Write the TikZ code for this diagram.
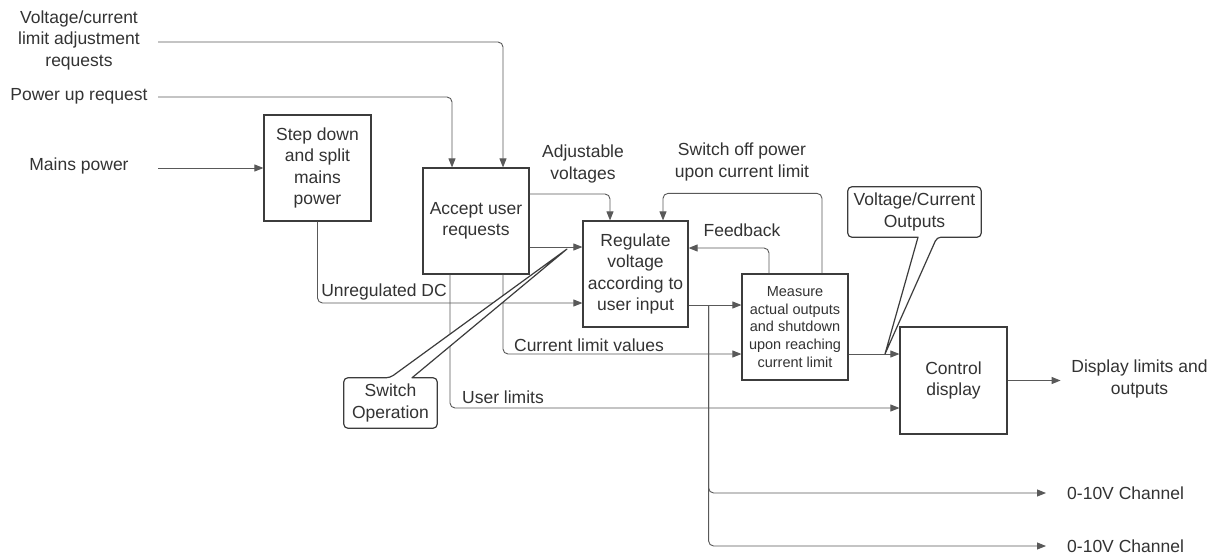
\documentclass[tikz,border=0pt]{standalone}
\usepackage{fontspec}
\setmainfont{Liberation Sans}
\usetikzlibrary{arrows.meta}
\definecolor{ink}{HTML}{333333}
\definecolor{edge}{HTML}{3C3C3C}
\definecolor{wire}{HTML}{595959}
\begin{document}
\begin{tikzpicture}[x=1pt,y=-1pt,
  txt/.style={text=ink, font={\fontsize{17.5pt}{21.5pt}\selectfont}},
  box/.style={txt, draw=edge, line width=1.2pt, minimum width=106pt,
    minimum height=106pt, inner sep=2pt, align=center},
  smalltxt/.style={font={\fontsize{14.5pt}{17.7pt}\selectfont}},
  lbl/.style={txt, align=center, inner sep=0pt},
  flow/.style={draw=wire, line width=0.9pt, rounded corners=5pt,
    -{Triangle[length=9pt,width=7pt]}},
  callout/.style={draw=edge, line width=1.2pt, fill=white, line join=round},
  frame/.style={minimum width=#1, minimum height=50pt, inner sep=0pt}
]
\fill[white] (0,0) rectangle (1221,554);
\useasboundingbox (0,0) rectangle (1221,554);

% process blocks
\node[box, minimum width=107pt] (step) at (317.5,168) {Step down\\and split\\mains\\power};
\node[box] (accept) at (476,221) {Accept user\\requests};
\node[box, minimum width=105pt] (reg) at (635.5,274) {Regulate\\voltage\\according to\\user input};
\node[box, smalltxt] (meas) at (795,327) {Measure\\actual outputs\\and shutdown\\upon reaching\\current limit};
\node[box, minimum width=107pt, minimum height=107pt] (ctrl) at (953.5,380.5) {Control\\display};

% free labels
\node[lbl] (vclLbl)   at (79,40)    {Voltage/current\\limit adjustment\\requests};
\node[lbl] (puLbl)    at (79,96)    {Power up request};
\node[lbl] (mainsLbl) at (79,166)   {Mains power};
\node[lbl] (udcLbl)   at (384,292)  {Unregulated DC};
\node[lbl] (avLbl)    at (583,164)  {Adjustable\\voltages};
\node[lbl] (clvLbl)   at (589,345)  {Current limit values};
\node[lbl] (ulLbl)    at (503,397)  {User limits};
\node[lbl] (fbLbl)    at (742,230)  {Feedback};
\node[lbl] (soLbl)    at (742,162)  {Switch off power\\upon current limit};
\node[lbl] (dlLbl)    at (1139.5,379) {Display limits and\\outputs};
\node[lbl, anchor=west] (ch1Lbl) at (1067,493) {0-10V Channel};
\node[lbl, anchor=west] (ch2Lbl) at (1067,546) {0-10V Channel};

% loose ends of the connectors
\coordinate (vclIn)   at (158,42);
\coordinate (puIn)    at (158,97);
\coordinate (mainsIn) at (158,168);
\coordinate (ch1)     at (1046,493);
\coordinate (ch2)     at (1046,546);
\coordinate (dlOut)   at ([xshift=53pt]ctrl.east);
\coordinate (swTip)   at (567,249);
\coordinate (vcTip)   at (885,354);

% inputs
\draw[flow] (vclIn) -| ([xshift=27pt]accept.north);
\draw[flow] (puIn) -| ([xshift=-24pt]accept.north);
\draw[flow] (mainsIn) -- (step.west);
\draw[flow] (step.south) |- ([yshift=-29pt]reg.west);

% user request outputs
\draw[flow] ([yshift=27pt]accept.east) -| ([xshift=-25.5pt]reg.north);
\coordinate (accOut) at ([yshift=-26pt]accept.east);
\draw[flow] (accOut) -- (accOut -| reg.west);
\draw[flow] ([xshift=-26pt]accept.south) |- ([yshift=-27.5pt]ctrl.west);
\draw[flow] ([xshift=27pt]accept.south) |- ([yshift=-27pt]meas.west);

% regulated output and its taps
\coordinate (regOut) at ([yshift=-31pt]reg.east);
\draw[flow] (regOut) -- (regOut -| meas.west);
\coordinate (tap) at ([xshift=20pt]regOut);
\draw[flow] (tap) |- (ch1);
\draw[flow] (tap) |- (ch2);

% feedback loops
\draw[flow] ([xshift=-26pt]meas.north) |- ([yshift=26pt]reg.east);
\draw[flow] ([xshift=27pt]meas.north) |- ([xshift=27.5pt,yshift=27pt]reg.north)
  -- ([xshift=27.5pt]reg.north);

% display path
\coordinate (measOut) at ([yshift=-27pt]meas.east);
\draw[flow] (measOut) -- (measOut -| ctrl.west);
\draw[flow] (ctrl.east) -- (dlOut);

% callouts
\node[frame=93pt] (swop) at (390.5,403) {};
\draw[callout] ([xshift=21.5pt]swop.north) [rounded corners=4pt]
  -- (swop.north east) -- (swop.south east) -- (swop.south west)
  -- (swop.north west) -- ([xshift=-0.5pt]swop.north) [sharp corners]
  -- (swTip) -- cycle;
\node[lbl] (swopText) at (swop.center) {Switch\\Operation};

\node[frame=133pt] (vco) at (914.5,212) {};
\draw[callout] ([xshift=3.5pt]vco.south) [rounded corners=4pt]
  -- (vco.south west) -- (vco.north west) -- (vco.north east)
  -- (vco.south east) -- ([xshift=22.5pt]vco.south) [sharp corners]
  -- (vcTip) -- cycle;
\node[lbl] (vcoText) at (vco.center) {Voltage/Current\\Outputs};
\end{tikzpicture}
\end{document}
